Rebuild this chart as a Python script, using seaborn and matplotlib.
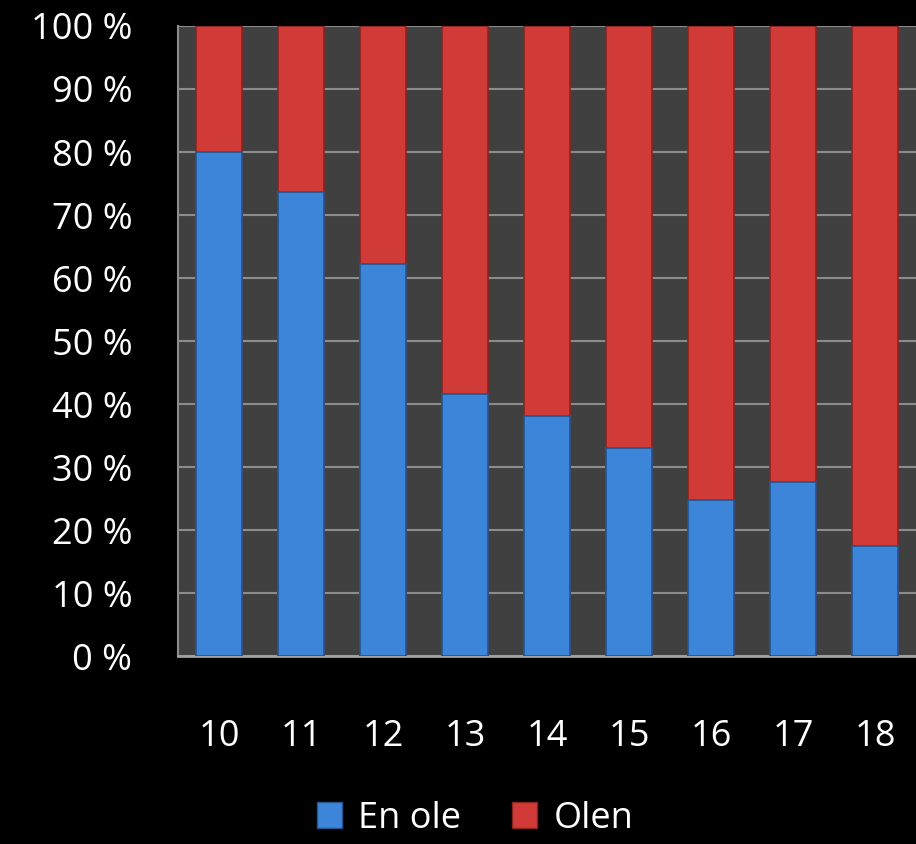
import matplotlib
matplotlib.use("Agg")
import matplotlib.pyplot as plt
import seaborn as sns
import pandas as pd
from matplotlib.patches import Patch

ages = ["10", "11", "12", "13", "14", "15", "16", "17", "18"]
en_ole = [80.0, 73.7, 62.2, 41.6, 38.1, 33.0, 24.8, 27.6, 17.5]
olen = [100 - v for v in en_ole]
yticks = [0, 10, 20, 30, 40, 50, 60, 70, 80, 90, 100]

df = pd.DataFrame({"age": ages, "en_ole": en_ole, "olen": olen})
df["total"] = df["en_ole"] + df["olen"]

sns.set_theme(style="dark")
plt.rcParams["font.family"] = ["Open Sans", "DejaVu Sans"]

blue = "#3d85d8"
red = "#d03b38"

fig = plt.figure(figsize=(9.16, 8.44), dpi=100, facecolor="black")
ax = fig.add_axes([0.1943, 0.2227, 0.8057, 0.7465])
ax.set_facecolor("#404040")

sns.barplot(data=df, x="age", y="total", color=red, width=0.56, ax=ax,
            saturation=1, edgecolor="#8a2420", linewidth=1.2, zorder=3)
sns.barplot(data=df, x="age", y="en_ole", color=blue, width=0.56, ax=ax,
            saturation=1, edgecolor="#23558f", linewidth=1.2, zorder=4)

ax.set_ylim(0, 100)
ax.set_xlim(-0.5, len(ages) - 0.5)
ax.set_yticks(yticks)
ax.set_yticklabels([f"{t} %" for t in yticks])
ax.yaxis.grid(True, color="#8c8c8c", linewidth=1.5, zorder=0)
ax.xaxis.grid(False)
ax.set_axisbelow(True)
ax.tick_params(axis="y", colors="white", labelsize=26, length=0, pad=33)
ax.tick_params(axis="x", colors="white", labelsize=26, length=0, pad=45)
ax.set_xlabel("")
ax.set_ylabel("")
for s in ["top", "right"]:
    ax.spines[s].set_visible(False)
ax.spines["left"].set_color("#8c8c8c")
ax.spines["left"].set_linewidth(1.5)
ax.spines["bottom"].set_color("#a0a0a0")
ax.spines["bottom"].set_linewidth(2)

handles = [Patch(facecolor=blue, edgecolor="#23558f", label="En ole"),
           Patch(facecolor=red, edgecolor="#8a2420", label="Olen")]
leg = fig.legend(handles=handles, loc="center", bbox_to_anchor=(0.5186, 0.030),
                 ncol=2, frameon=False, fontsize=26, handlelength=0.7,
                 handleheight=0.7, handletextpad=0.45, columnspacing=1.4)
for t in leg.get_texts():
    t.set_color("white")

fig.savefig("out.png", dpi=100, facecolor="black")
